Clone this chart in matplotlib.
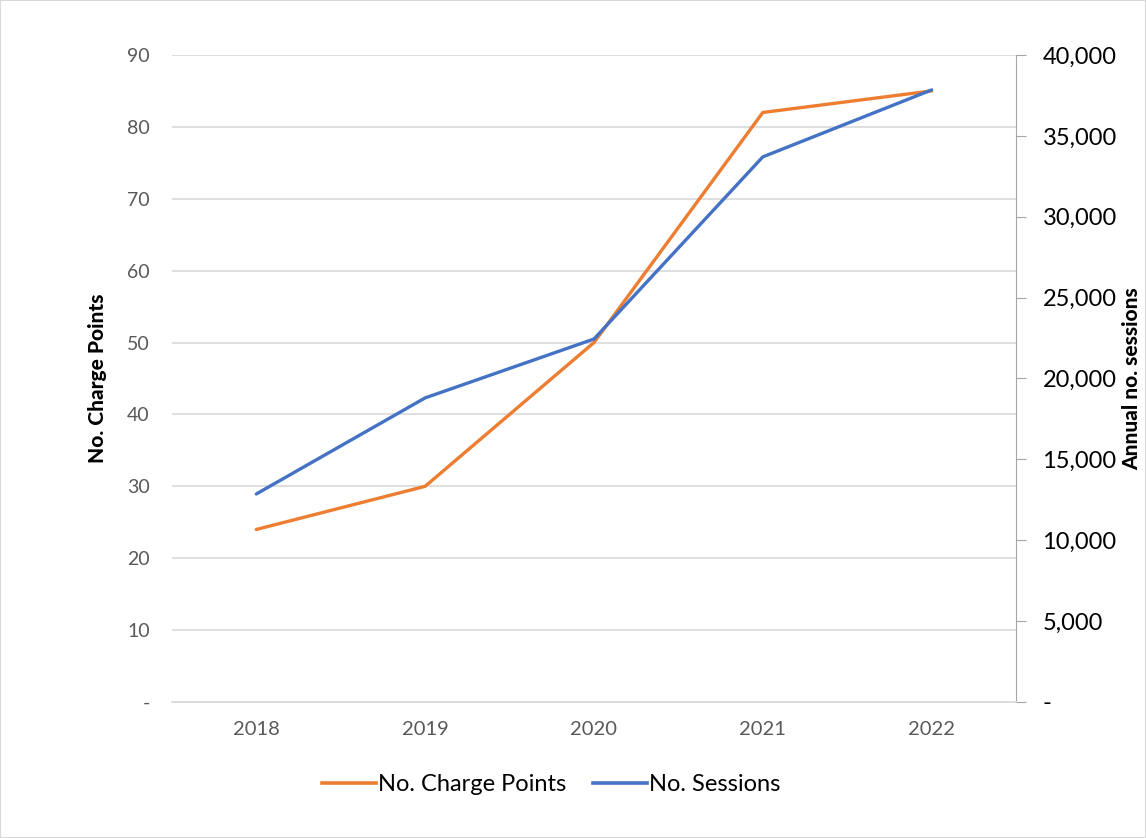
import matplotlib.pyplot as plt
from matplotlib.ticker import FuncFormatter
from matplotlib.lines import Line2D
from matplotlib.patches import Rectangle

# Data
years = ["2018", "2019", "2020", "2021", "2022"]
charge_points = [24, 30, 50, 82, 85]
sessions = [12860, 18800, 22440, 33700, 37840]

ORANGE = "#ED7D31"
BLUE = "#4472C4"
GRID = "#D9D9D9"
TXT = "#595959"

plt.rcParams['font.family'] = ['Lato', 'DejaVu Sans']

fig = plt.figure(figsize=(11.46, 8.38), dpi=100)
ax = fig.add_axes([0.150, 0.1623, 0.7366, 0.7721])
ax2 = ax.twinx()

x = list(range(len(years)))
ax.plot(x, charge_points, color=ORANGE, lw=2.4, solid_capstyle='round', zorder=3)
ax2.plot(x, sessions, color=BLUE, lw=2.4, solid_capstyle='round', zorder=3)

ax.set_xlim(-0.5, 4.5)
ax.set_ylim(0, 90)
ax.set_yticks(range(0, 91, 10))
ax.yaxis.set_major_formatter(FuncFormatter(lambda v, p: "-" if v == 0 else f"{int(v)}"))
ax.set_xticks(x)
ax.set_xticklabels(years)
ax.grid(axis='y', color=GRID, lw=1.2)
ax.set_axisbelow(True)

ax2.set_ylim(0, 40000)
ax2.set_yticks(range(0, 40001, 5000))
ax2.yaxis.set_major_formatter(FuncFormatter(lambda v, p: "-" if v == 0 else f"{int(v):,}"))

for s in ["top", "left", "right", "bottom"]:
    ax.spines[s].set_visible(False)
    ax2.spines[s].set_visible(False)
ax2.spines["right"].set_visible(True)
ax2.spines["right"].set_color("#A6A6A6")
ax2.spines["bottom"].set_visible(True)
ax2.spines["bottom"].set_color(GRID)
ax2.spines["bottom"].set_linewidth(1.2)

ax.tick_params(axis='y', length=0, pad=16, labelsize=14, labelcolor=TXT)
ax.tick_params(axis='x', length=0, pad=14, labelsize=14.5, labelcolor=TXT)
ax2.tick_params(axis='y', length=7, color="#A6A6A6", pad=12, labelsize=17, labelcolor="black")

ax.set_ylabel("No. Charge Points", fontsize=15, fontweight='black', labelpad=14)
ax2.set_ylabel("Annual no. sessions", fontsize=15, fontweight='black', labelpad=4)

handles = [Line2D([], [], color=ORANGE, lw=2.6), Line2D([], [], color=BLUE, lw=2.6)]
fig.legend(handles, ["No. Charge Points", "No. Sessions"], loc='center',
           bbox_to_anchor=(0.481, 0.064), ncol=2, frameon=False, fontsize=17,
           handlelength=2.3, handletextpad=0.1, columnspacing=1.1)

fig.patches.append(Rectangle((0, 0), 1, 1, transform=fig.transFigure, fill=False,
                             edgecolor="#D9D9D9", lw=1.5))

fig.savefig("out.png", dpi=100)
